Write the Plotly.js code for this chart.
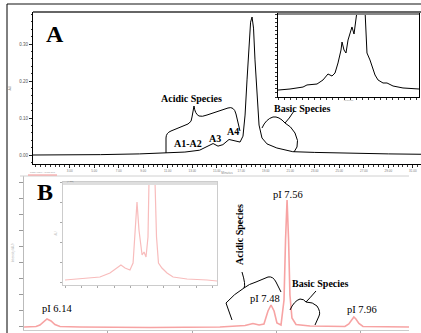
<!DOCTYPE html>
<html>
<head>
<meta charset="utf-8">
<script src="https://cdn.plot.ly/plotly-3.0.1.min.js"></script>
<style>html,body{margin:0;padding:0;background:#fff;}#chart{width:421px;height:333px;}</style>
</head>
<body>
<div id="chart"></div>
<script>
// ---------- Panel A: chromatogram (minutes vs AU) ----------
const aTime = [0, 2.2, 5.5, 8.7, 10.8, 12.4, 13.6, 14.2, 14.7, 15.1, 15.5, 16.0, 16.5, 16.9, 17.14, 17.31, 17.47, 17.63, 17.76, 17.88, 18.0, 18.12, 18.29, 18.45, 18.69, 19.1, 19.9, 21.2, 23.0, 26.0, 29.0, 31.67];
const aAbs  = [0.000, 0.000, 0.001, 0.003, 0.005, 0.008, 0.013, 0.022, 0.031, 0.024, 0.028, 0.042, 0.039, 0.035, 0.051, 0.108, 0.203, 0.311, 0.359, 0.373, 0.343, 0.257, 0.149, 0.081, 0.046, 0.030, 0.019, 0.009, 0.007, 0.004, 0.003, 0.002];

// Panel A inset (zoomed view)
const aInsetTime = [4.0, 6.0, 8.17, 8.83, 10.5, 11.5, 12.33, 13.0, 13.5, 14.0, 14.5, 14.67, 15.0, 15.33, 15.67, 16.17, 16.33, 16.67, 16.83, 17.17, 17.83, 18.5, 18.67, 18.83, 19.33, 19.67, 20.17, 20.67, 21.5, 22.17, 23.17, 24.83, 27.17, 27.5];
const aInsetAbs  = [0.0067, 0.0077, 0.0096, 0.0116, 0.0125, 0.0164, 0.0222, 0.0202, 0.0231, 0.0328, 0.0453, 0.0530, 0.0453, 0.0424, 0.0549, 0.0665, 0.0675, 0.0607, 0.0694, 0.0839, 0.112, 0.0839, 0.0578, 0.0424, 0.0357, 0.0289, 0.0212, 0.0164, 0.0135, 0.0135, 0.0106, 0.0087, 0.0077, 0.0077];

const aTickVals = [3, 5, 7, 9, 11, 13, 15, 17, 19, 21, 23, 25, 27, 29, 31];
const aTickText = ["3.00","5.00","7.00","9.00","11.00","13.00","15.00","17.00","19.00","21.00","23.00","25.00","27.00","29.00","31.00"];
const aYTickVals = [0, 0.1, 0.2, 0.3];
const aYTickText = ["0.00", "0.10", "0.20", "0.30"];

// ---------- Panel B: icIEF profile (pI vs signal) ----------
const bPI  = [6.004, 6.075, 6.098, 6.116, 6.140, 6.164, 6.187, 6.217, 6.336, 6.751, 7.165, 7.314, 7.361, 7.397, 7.426, 7.450, 7.468, 7.486, 7.503, 7.527, 7.545, 7.554, 7.563, 7.572, 7.580, 7.592, 7.616, 7.699, 7.906, 7.929, 7.947, 7.959, 7.971, 7.989, 8.013, 8.286];
const bSig = [-0.31, -0.16, 0.31, 1.25, 2.19, 1.56, 0.47, -0.16, -0.31, -0.47, -0.31, 0.16, 0.78, 0.31, 0.63, 4.69, 6.56, 4.69, 0.94, 0.31, 8.13, 26.9, 39.4, 26.9, 9.69, 2.5, 0.47, 0.0, -0.16, 0.63, 2.03, 2.81, 2.19, 0.78, -0.16, -0.31];

// Panel B inset
const bInsetPI  = [7.000, 7.091, 7.213, 7.274, 7.317, 7.341, 7.366, 7.396, 7.415, 7.427, 7.439, 7.451, 7.470, 7.482, 7.494, 7.506, 7.512, 7.530, 7.549, 7.558, 7.570, 7.591, 7.622, 7.659, 7.744, 7.866, 7.927];
const bInsetSig = [0.10, 0.15, 0.25, 0.45, 0.70, 0.85, 0.70, 0.60, 0.95, 2.25, 4.00, 2.60, 1.35, 1.50, 1.25, 2.25, 4.95, 7.60, 4.95, 2.25, 0.95, 0.70, 0.45, 0.25, 0.15, 0.10, 0.05];

const bTickVals = [6.0, 6.5, 7.0, 7.5, 8.0];

// ---------- helpers ----------
const W = 421, H = 333;
const px = v => v / W;
const py = v => 1 - v / H;
const pathPx = d => d.replace(/(-?[\d.]+),(-?[\d.]+)/g, (m, a, b) => (a / W).toFixed(5) + ',' + (1 - b / H).toFixed(5));
const SERIF = 'Liberation Serif, Times New Roman, serif';

const traces = [
  {x: aTime, y: aAbs, xaxis: 'x', yaxis: 'y', mode: 'lines', line: {color: '#000', width: 1}, hoverinfo: 'skip'},
  {x: aInsetTime, y: aInsetAbs, xaxis: 'x2', yaxis: 'y2', mode: 'lines', line: {color: '#000', width: 1}, hoverinfo: 'skip'},
  {x: bPI, y: bSig, xaxis: 'x3', yaxis: 'y3', mode: 'lines', line: {color: '#f7a3a3', width: 1.6}, hoverinfo: 'skip'},
  {x: bInsetPI, y: bInsetSig, xaxis: 'x4', yaxis: 'y4', mode: 'lines', line: {color: '#f8bcbc', width: 1.2}, hoverinfo: 'skip'}
];

const baseAx = {showgrid: false, zeroline: false, fixedrange: true};

function note(text, x, y, size, extra) {
  return Object.assign({
    text: text, x: px(x), y: py(y), xref: 'paper', yref: 'paper',
    xanchor: 'center', yanchor: 'middle', showarrow: false,
    font: {family: SERIF, size: size, color: '#000'}
  }, extra || {});
}

const layout = {
  width: W, height: H,
  margin: {l: 0, r: 0, t: 0, b: 0},
  paper_bgcolor: '#fff', plot_bgcolor: 'rgba(0,0,0,0)',
  showlegend: false,
  // Panel A main
  xaxis: Object.assign({}, baseAx, {
    domain: [px(33), 1], anchor: 'y', range: [0, 31.67],
    showline: true, linecolor: '#000', linewidth: 1,
    ticks: 'outside', ticklen: 3, tickcolor: '#222', tickwidth: 1,
    tickvals: aTickVals, ticktext: aTickText,
    tickfont: {size: 3, color: '#777', family: 'Arial'},
    minor: {ticks: 'outside', dtick: 0.4, tick0: 3, ticklen: 1.5, tickcolor: '#333'},
    title: {text: 'Minutes', font: {size: 3, color: '#777'}, standoff: 0}
  }),
  yaxis: Object.assign({}, baseAx, {
    domain: [py(164), py(12)], anchor: 'x', range: [-0.0243, 0.3865],
    showline: true, linecolor: '#000', linewidth: 1,
    ticks: 'outside', ticklen: 3, tickcolor: '#222',
    tickvals: aYTickVals, ticktext: aYTickText,
    tickfont: {size: 4.5, color: '#555', family: 'Arial'},
    minor: {ticks: 'outside', dtick: 0.02, ticklen: 1.5, tickcolor: '#333'},
    title: {text: 'AU', font: {size: 3.5, color: '#777'}, standoff: 8}
  }),
  // Panel A inset
  xaxis2: Object.assign({}, baseAx, {
    domain: [px(278), px(419)], anchor: 'y2', range: [4, 27.5],
    showline: true, mirror: true, linecolor: '#000', linewidth: 1,
    ticks: 'outside', ticklen: 2, dtick: 1, tickcolor: '#333',
    showticklabels: false,
    title: {text: 'Minutes', font: {size: 2.5, color: '#888'}, standoff: 0}
  }),
  yaxis2: Object.assign({}, baseAx, {
    domain: [py(97), py(14)], anchor: 'x2', range: [0, 0.08],
    showline: true, mirror: true, linecolor: '#000', linewidth: 1,
    ticks: 'outside', ticklen: 2, dtick: 0.004, tickcolor: '#333',
    showticklabels: false
  }),
  // Panel B main
  xaxis3: Object.assign({}, baseAx, {
    domain: [px(24), px(409)], anchor: 'y3', range: [6.0037, 8.2858],
    showline: true, linecolor: '#ccc', linewidth: 1,
    ticks: 'outside', ticklen: 3, tickcolor: '#aaa', tickvals: bTickVals,
    showticklabels: false
  }),
  yaxis3: Object.assign({}, baseAx, {
    domain: [py(330), py(176)], anchor: 'x3', range: [-1.25, 46.875],
    showline: true, linecolor: '#bbb', linewidth: 1,
    ticks: 'outside', ticklen: 4, tickcolor: '#999', dtick: 5, tick0: 0,
    showticklabels: false,
    title: {text: 'Intensity (AU)', font: {size: 3, color: '#aaa'}, standoff: 4}
  }),
  yaxis5: Object.assign({}, baseAx, {
    overlaying: 'y3', side: 'right', anchor: 'x3', range: [-0.6875, 8.9375],
    showline: true, linecolor: '#ddd', linewidth: 1,
    ticks: 'outside', ticklen: 5, tickcolor: '#bbb', dtick: 1, tick0: 0,
    showticklabels: false
  }),
  // Panel B inset
  xaxis4: Object.assign({}, baseAx, {
    domain: [px(63), px(217)], anchor: 'y4', range: [6.9878, 7.9268],
    showline: true, mirror: true, linecolor: '#ccc', linewidth: 1,
    ticks: 'outside', ticklen: 2, tickcolor: '#aaa', dtick: 0.1, tick0: 7.0,
    showticklabels: false
  }),
  yaxis4: Object.assign({}, baseAx, {
    domain: [py(285), py(182)], anchor: 'x4', range: [-0.15, 5.0],
    showline: true, mirror: true, linecolor: '#ccc', linewidth: 1,
    ticks: 'outside', ticklen: 2, tickcolor: '#aaa', dtick: 1,
    showticklabels: false,
    title: {text: 'AU', font: {size: 3, color: '#bbb'}, standoff: 2}
  }),
  shapes: [
    // outer figure frame
    {type: 'line', xref: 'paper', yref: 'paper', x0: px(7), x1: 1, y0: py(4), y1: py(4), line: {color: '#888', width: 2}},
    {type: 'line', xref: 'paper', yref: 'paper', x0: px(7), x1: px(7), y0: py(4), y1: 0, line: {color: '#000', width: 1}},
    // panel A top border
    {type: 'line', xref: 'paper', yref: 'paper', x0: px(33), x1: 1, y0: py(12), y1: py(12), line: {color: '#666', width: 2}},
    // inset A top bar
    {type: 'line', xref: 'paper', yref: 'paper', x0: px(278), x1: px(419), y0: py(14), y1: py(14), line: {color: '#888', width: 2}},
    // panel B frame top
    {type: 'line', xref: 'paper', yref: 'paper', x0: px(20), x1: px(409), y0: py(176), y1: py(176), line: {color: '#d0d0d0', width: 1}},
    // inset B top bar
    {type: 'line', xref: 'paper', yref: 'paper', x0: px(63), x1: px(217), y0: py(183.5), y1: py(183.5), line: {color: '#dedede', width: 3}},
    // tiny legend line of panel B
    {type: 'line', xref: 'paper', yref: 'paper', x0: px(28), x1: px(57), y0: py(175), y1: py(175), line: {color: '#f49090', width: 1}},
    // braces
    {type: 'path', xref: 'paper', yref: 'paper', line: {color: '#000', width: 1},
     path: pathPx('M166,153 L166,138 Q166,133 171,131 L188,124 Q192,122 192,117 L194,106 M194,106 Q195,114 199,116 Q202,117 207,115 L228,108 Q234,106 236,114 L240,131')},
    {type: 'path', xref: 'paper', yref: 'paper', line: {color: '#000', width: 1},
     path: pathPx('M262,128 Q266,119 273,117 Q279,116 285,123 Q289,119 294,111 M285,123 Q291,126 295,133 Q299,141 297,147 L294,152')},
    {type: 'path', xref: 'paper', yref: 'paper', line: {color: '#000', width: 1},
     path: pathPx('M232,320 L226,303 Q234,294 244,288 Q246,285 242,272 M244,288 Q249,284 256,282 L268,277 Q273,276 276,282 L281,292')},
    {type: 'path', xref: 'paper', yref: 'paper', line: {color: '#000', width: 1},
     path: pathPx('M290,310 Q294,301 300,299 Q304,299 306,302 Q310,298 316,291 M306,302 Q313,302 317,306 Q321,312 319,316 L315,325')}
  ],
  annotations: [
    note('<b>A</b>', 55, 34, 24),
    note('<b>B</b>', 45, 192, 24),
    note('<b>Acidic Species</b>', 191, 98, 10),
    note('<b>Basic Species</b>', 302, 108, 10),
    note('<b>A1-A2</b>', 188, 143, 10),
    note('<b>A3</b>', 215, 138, 10),
    note('<b>A4</b>', 233, 132, 10),
    note('pI 6.14', 57, 308, 10.5),
    note('pI 7.48', 265, 298, 10.5),
    note('pI 7.56', 288, 194, 10.5),
    note('pI 7.96', 362, 309, 10.5),
    note('<b>Basic Species</b>', 320, 283, 10),
    note('<b>Acidic Species</b>', 239, 235, 10, {textangle: -90}),
    note('Time Limit: 10.00 min', 42, 172, 2.5, {font: {size: 2.5, color: '#999'}}),
    note('(1.00)', 70, 181, 2.5, {font: {size: 2.5, color: '#666'}})
  ]
};

Plotly.newPlot('chart', traces, layout, {staticPlot: true, displayModeBar: false});
</script>
</body>
</html>
